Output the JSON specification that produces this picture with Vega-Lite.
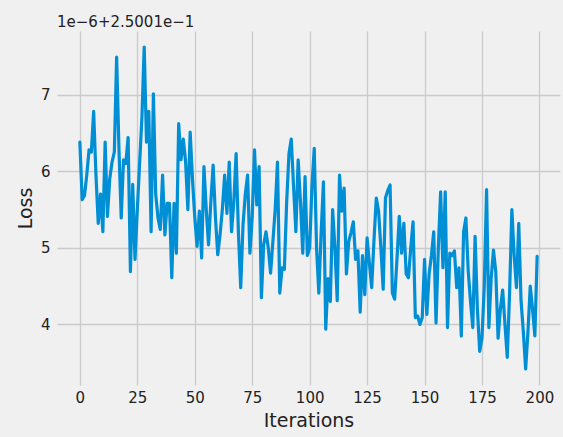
{
  "$schema": "https://vega.github.io/schema/vega-lite/v6.json",
  "autosize": "none",
  "width": 503,
  "height": 354,
  "padding": {"left": 57, "top": 31, "right": 3, "bottom": 52},
  "background": "#f0f0f0",
  "title": {"text": "1e−6+2.5001e−1", "anchor": "start", "frame": "group", "fontSize": 15, "fontWeight": "normal", "font": "DejaVu Sans", "color": "#222222", "offset": 1},
  "data": {"values": [
    {"it":0,"loss":6.38},{"it":1,"loss":5.63},{"it":2,"loss":5.68},{"it":3,"loss":5.95},{"it":4,"loss":6.28},
    {"it":5,"loss":6.25},{"it":6,"loss":6.78},{"it":7,"loss":5.95},{"it":8,"loss":5.32},{"it":9,"loss":5.7},
    {"it":10,"loss":5.21},{"it":11,"loss":6.38},{"it":12,"loss":5.41},{"it":13,"loss":5.9},{"it":14,"loss":6.12},
    {"it":15,"loss":6.25},{"it":16,"loss":7.49},{"it":17,"loss":6.3},{"it":18,"loss":5.39},{"it":19,"loss":6.15},
    {"it":20,"loss":6.1},{"it":21,"loss":6.44},{"it":22,"loss":4.69},{"it":23,"loss":5.83},{"it":24,"loss":4.85},
    {"it":25,"loss":5.5},{"it":26,"loss":6.1},{"it":27,"loss":6.7},{"it":28,"loss":7.62},{"it":29,"loss":6.38},
    {"it":30,"loss":6.78},{"it":31,"loss":5.21},{"it":32,"loss":7.01},{"it":33,"loss":5.7},{"it":34,"loss":5.39},
    {"it":35,"loss":5.24},{"it":36,"loss":5.95},{"it":37,"loss":5.17},{"it":38,"loss":5.58},{"it":39,"loss":5.58},
    {"it":40,"loss":4.61},{"it":41,"loss":5.58},{"it":42,"loss":4.93},{"it":43,"loss":6.62},{"it":44,"loss":6.15},
    {"it":45,"loss":6.42},{"it":46,"loss":6.13},{"it":47,"loss":5.5},{"it":48,"loss":6.51},{"it":49,"loss":5.9},
    {"it":50,"loss":5.4},{"it":51,"loss":5.02},{"it":52,"loss":5.48},{"it":53,"loss":4.87},{"it":54,"loss":6.06},
    {"it":55,"loss":5.5},{"it":56,"loss":5.04},{"it":57,"loss":5.6},{"it":58,"loss":6.08},{"it":59,"loss":5.4},
    {"it":60,"loss":4.91},{"it":61,"loss":5.17},{"it":62,"loss":5.5},{"it":63,"loss":5.95},{"it":64,"loss":5.45},
    {"it":65,"loss":6.12},{"it":66,"loss":5.21},{"it":67,"loss":5.6},{"it":68,"loss":6.23},{"it":69,"loss":5.2},
    {"it":70,"loss":4.48},{"it":71,"loss":5.3},{"it":72,"loss":5.7},{"it":73,"loss":5.95},{"it":74,"loss":4.93},
    {"it":75,"loss":5.4},{"it":76,"loss":6.28},{"it":77,"loss":5.56},{"it":78,"loss":6.06},{"it":79,"loss":4.35},
    {"it":80,"loss":5.04},{"it":81,"loss":5.21},{"it":82,"loss":5.0},{"it":83,"loss":4.67},{"it":84,"loss":5.08},
    {"it":85,"loss":5.5},{"it":86,"loss":6.12},{"it":87,"loss":4.41},{"it":88,"loss":4.74},{"it":89,"loss":4.72},
    {"it":90,"loss":5.6},{"it":91,"loss":6.23},{"it":92,"loss":6.42},{"it":93,"loss":5.8},{"it":94,"loss":5.21},
    {"it":95,"loss":6.15},{"it":96,"loss":5.6},{"it":97,"loss":4.93},{"it":98,"loss":5.93},{"it":99,"loss":4.9},
    {"it":100,"loss":5.0},{"it":101,"loss":5.8},{"it":102,"loss":6.3},{"it":103,"loss":5.0},{"it":104,"loss":4.41},
    {"it":105,"loss":5.2},{"it":106,"loss":5.86},{"it":107,"loss":3.94},{"it":108,"loss":4.6},{"it":109,"loss":4.3},
    {"it":110,"loss":5.5},{"it":111,"loss":5.0},{"it":112,"loss":4.31},{"it":113,"loss":5.95},{"it":114,"loss":5.48},
    {"it":115,"loss":5.78},{"it":116,"loss":4.66},{"it":117,"loss":5.08},{"it":118,"loss":5.2},{"it":119,"loss":5.34},
    {"it":120,"loss":4.85},{"it":121,"loss":4.96},{"it":122,"loss":4.16},{"it":123,"loss":4.9},{"it":124,"loss":4.39},
    {"it":125,"loss":5.13},{"it":126,"loss":4.8},{"it":127,"loss":4.48},{"it":128,"loss":5.1},{"it":129,"loss":5.65},
    {"it":130,"loss":5.48},{"it":131,"loss":5.0},{"it":132,"loss":4.46},{"it":133,"loss":5.65},{"it":134,"loss":5.75},
    {"it":135,"loss":5.82},{"it":136,"loss":4.41},{"it":137,"loss":4.33},{"it":138,"loss":4.85},{"it":139,"loss":5.41},
    {"it":140,"loss":4.93},{"it":141,"loss":5.32},{"it":142,"loss":4.66},{"it":143,"loss":4.61},{"it":144,"loss":5.0},
    {"it":145,"loss":5.34},{"it":146,"loss":4.09},{"it":147,"loss":4.11},{"it":148,"loss":4.0},{"it":149,"loss":4.09},
    {"it":150,"loss":4.85},{"it":151,"loss":4.13},{"it":152,"loss":4.66},{"it":153,"loss":4.9},{"it":154,"loss":5.21},
    {"it":155,"loss":4.02},{"it":156,"loss":5.0},{"it":157,"loss":5.73},{"it":158,"loss":4.74},{"it":159,"loss":5.73},
    {"it":160,"loss":3.96},{"it":161,"loss":4.93},{"it":162,"loss":4.9},{"it":163,"loss":4.96},{"it":164,"loss":4.48},
    {"it":165,"loss":4.74},{"it":166,"loss":3.85},{"it":167,"loss":5.21},{"it":168,"loss":5.39},{"it":169,"loss":4.7},
    {"it":170,"loss":4.3},{"it":171,"loss":3.96},{"it":172,"loss":5.15},{"it":173,"loss":4.2},{"it":174,"loss":3.65},
    {"it":175,"loss":3.82},{"it":176,"loss":4.5},{"it":177,"loss":5.76},{"it":178,"loss":3.96},{"it":179,"loss":4.6},
    {"it":180,"loss":4.97},{"it":181,"loss":4.69},{"it":182,"loss":3.82},{"it":183,"loss":4.2},{"it":184,"loss":4.45},
    {"it":185,"loss":4.0},{"it":186,"loss":3.57},{"it":187,"loss":4.4},{"it":188,"loss":5.5},{"it":189,"loss":4.9},
    {"it":190,"loss":4.48},{"it":191,"loss":5.32},{"it":192,"loss":4.31},{"it":193,"loss":3.9},{"it":194,"loss":3.42},
    {"it":195,"loss":3.9},{"it":196,"loss":4.5},{"it":197,"loss":4.2},{"it":198,"loss":3.85},{"it":199,"loss":4.89}
  ]},
  "mark": {"type": "line", "color": "#008fd5", "strokeWidth": 3.2, "strokeJoin": "round", "strokeCap": "round", "clip": true},
  "encoding": {
    "x": {"field": "it", "type": "quantitative", "title": "Iterations",
      "scale": {"domain": [-9.95, 208.95], "nice": false, "zero": false},
      "axis": {"values": [0, 25, 50, 75, 100, 125, 150, 175, 200], "labelPadding": 5, "titlePadding": 6}},
    "y": {"field": "loss", "type": "quantitative", "title": "Loss",
      "scale": {"domain": [3.21, 7.83], "nice": false, "zero": false},
      "axis": {"values": [4, 5, 6, 7], "labelPadding": 7, "titlePadding": 5}}
  },
  "config": {
    "view": {"stroke": null, "fill": "#f0f0f0"},
    "axis": {
      "domain": false, "ticks": false,
      "grid": true, "gridColor": "#cbcbcb", "gridWidth": 1.3,
      "labelFont": "DejaVu Sans", "labelFontSize": 15, "labelColor": "#222222",
      "titleFont": "DejaVu Sans", "titleFontSize": 19, "titleFontWeight": "normal", "titleColor": "#222222"
    }
  }
}
